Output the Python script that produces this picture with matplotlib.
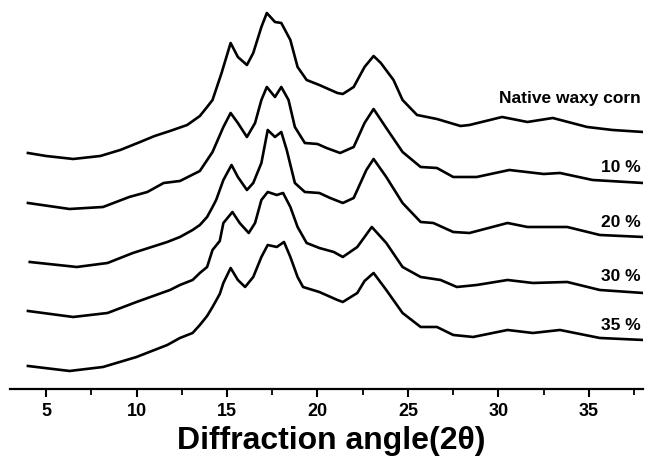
import matplotlib.pyplot as plt
from matplotlib.ticker import MultipleLocator

plt.rcParams['font.family'] = ['Liberation Sans', 'DejaVu Sans']

# 2-theta positions and stacked intensities (a.u.)
theta_native = [4.0, 5.0, 6.5, 8.0, 9.1, 10.2, 11.0, 11.85, 12.8, 13.5, 13.9, 14.2, 14.7,
                15.2, 15.6, 16.1, 16.45, 16.9, 17.2, 17.65, 18.0, 18.5, 18.9, 19.4, 20.1,
                21.1, 21.4, 22.0, 22.6, 23.1, 23.5, 24.2, 24.7, 25.5, 26.6, 27.9, 28.4,
                30.2, 31.6, 33.0, 34.9, 36.3, 38.0]
int_native = [236, 233, 230, 233, 239, 247, 253, 258, 264, 273, 282, 289, 316,
              346, 332, 324, 336, 362, 376, 367, 366, 349, 322, 309, 304,
              296, 295, 302, 322, 333, 326, 309, 289, 274, 270, 263, 264,
              272, 267, 271, 262, 259, 257]

theta_10 = [4.0, 6.3, 8.15, 9.6, 10.6, 11.5, 12.4, 13.5, 14.2, 14.8, 15.2, 15.6, 16.1,
            16.55, 16.9, 17.2, 17.65, 18.0, 18.4, 18.75, 19.3, 20.0, 20.5, 21.25, 22.0,
            22.6, 23.1, 23.8, 24.7, 25.7, 26.6, 27.5, 28.8, 30.6, 32.5, 33.4, 35.2, 38.0]
int_10 = [186, 180, 182, 192, 197, 206, 208, 218, 237, 262, 276, 266, 252,
          266, 289, 302, 292, 302, 289, 262, 246, 245, 241, 236, 242,
          266, 280, 261, 237, 222, 221, 212, 212, 219, 215, 216, 209, 206]

theta_20 = [4.1, 6.7, 8.4, 9.8, 11.7, 12.4, 13.1, 13.5, 13.9, 14.2, 14.4, 14.8, 15.25,
            15.6, 16.1, 16.45, 16.9, 17.25, 17.65, 18.0, 18.3, 18.75, 19.3, 20.1, 20.7,
            21.4, 22.0, 22.7, 23.1, 23.8, 24.7, 25.7, 26.4, 27.5, 28.4, 30.5, 31.6,
            33.8, 35.6, 38.0]
int_20 = [127, 122, 126, 136, 147, 152, 159, 164, 172, 182, 189, 209, 224,
          212, 199, 206, 226, 259, 252, 257, 239, 206, 197, 196, 191,
          186, 191, 219, 230, 212, 186, 167, 166, 157, 156, 166, 162,
          162, 154, 152]

theta_30 = [4.0, 6.5, 8.4, 10.0, 11.85, 12.4, 13.1, 13.5, 13.9, 14.2, 14.6, 14.8, 15.3,
            15.7, 16.2, 16.55, 16.9, 17.25, 17.75, 18.1, 18.5, 18.9, 19.4, 20.1, 20.9,
            21.4, 22.2, 23.0, 23.8, 24.7, 25.7, 26.8, 27.7, 28.8, 30.5, 31.9, 33.8,
            35.6, 38.0]
int_30 = [78, 72, 76, 87, 99, 104, 109, 116, 122, 139, 148, 166, 177,
          166, 156, 166, 189, 197, 194, 196, 182, 162, 146, 141, 137,
          132, 142, 162, 146, 122, 112, 109, 102, 104, 109, 106, 107,
          99, 96]

theta_35 = [4.0, 6.3, 8.15, 10.0, 11.7, 12.4, 13.1, 13.5, 13.9, 14.2, 14.6, 14.8, 15.2,
            15.6, 16.0, 16.45, 16.9, 17.25, 17.75, 18.15, 18.5, 18.9, 19.2, 20.1, 21.1,
            21.4, 22.2, 22.6, 23.1, 23.8, 24.7, 25.7, 26.6, 27.5, 28.6, 30.5, 31.9,
            33.4, 35.6, 38.0]
int_35 = [23, 18, 22, 32, 44, 51, 56, 64, 73, 82, 95, 106, 121,
          109, 102, 112, 132, 144, 142, 147, 132, 112, 102, 97, 89,
          87, 96, 108, 116, 99, 76, 62, 62, 54, 52, 59, 56,
          59, 51, 49]

labels = ['Native waxy corn', '10 %', '20 %', '30 %', '35 %']
label_y = [290, 221, 166, 112, 63]

fig = plt.figure(figsize=(6.47, 4.58), dpi=100)
ax = fig.add_axes([0.0152, 0.1507, 0.979, 0.8384])

curves = [(theta_native, int_native), (theta_10, int_10), (theta_20, int_20),
          (theta_30, int_30), (theta_35, int_35)]
for (tx, iy), lab, ly in zip(curves, labels, label_y):
    ax.plot(tx, iy, color='black', linewidth=1.9, solid_joinstyle='round')
    ax.text(37.87, ly, lab, ha='right', va='center', fontsize=12.5, fontweight='bold')

ax.set_xlim(3, 38)
ax.set_ylim(0, 384)
ax.set_yticks([])
for side in ['left', 'right', 'top']:
    ax.spines[side].set_visible(False)
ax.spines['bottom'].set_linewidth(1.6)
ax.xaxis.set_major_locator(MultipleLocator(5))
ax.xaxis.set_minor_locator(MultipleLocator(2.5))
ax.tick_params(axis='x', which='major', direction='out', length=6, width=1.5, pad=4,
               labelsize=13)
ax.tick_params(axis='x', which='minor', direction='out', length=4, width=1.3)
for t in ax.get_xticklabels():
    t.set_fontweight('bold')

fig.text(0.5116, 0.0197, 'Diffraction angle(2\u03b8)', ha='center', va='baseline',
         fontsize=23, fontweight='bold')

fig.savefig('out.png', dpi=100)
